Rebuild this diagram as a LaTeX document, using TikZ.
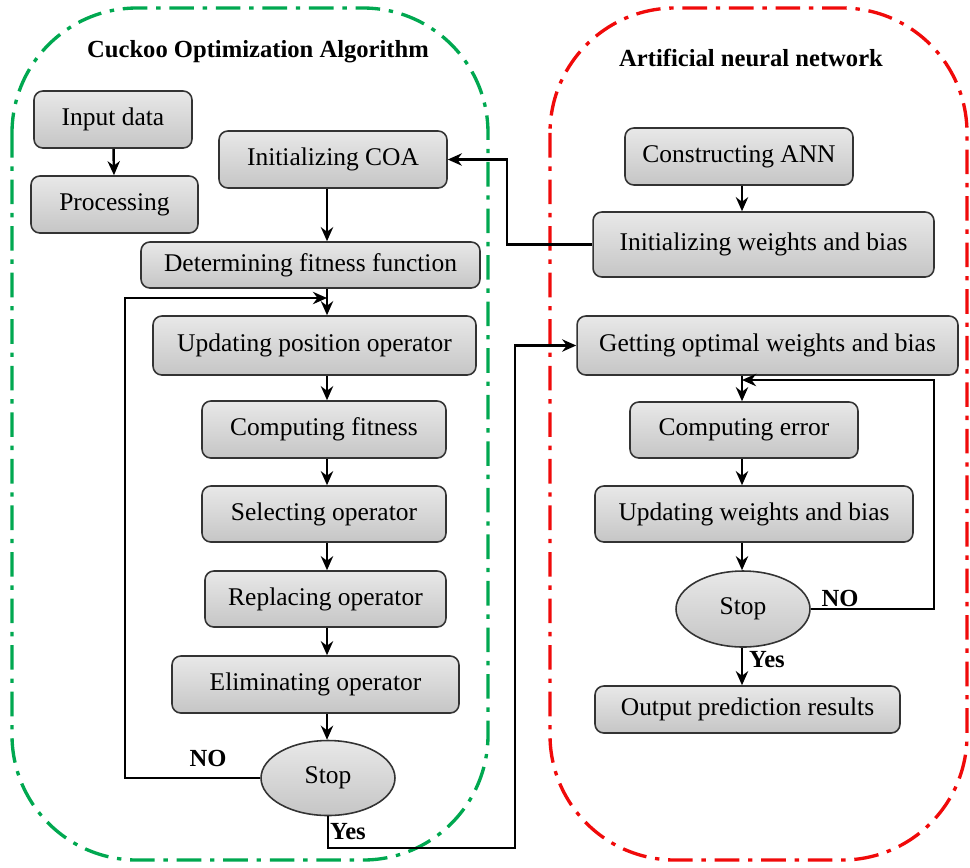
\documentclass[tikz,border=0pt]{standalone}
\usepackage{fontspec}
\setmainfont{Liberation Serif}
\usepackage{tikz}
\usetikzlibrary{shapes.geometric}
\usetikzlibrary{positioning}
\usetikzlibrary{arrows.meta}
\usepackage{xcolor}
\definecolor{coagreen}{RGB}{0,168,80}
\definecolor{annred}{RGB}{240,10,10}
\tikzset{
  stepbox/.style={draw=black!80, line width=0.9pt, rectangle, rounded corners=5pt, top color=gray!18, bottom color=gray!45, align=center, minimum height=1.14cm, font=\fontsize{14.5}{16}\selectfont},
  stopnode/.style={draw=black!80, line width=0.9pt, ellipse, top color=gray!18, bottom color=gray!45, minimum width=2.68cm, minimum height=1.5cm, font=\fontsize{14.5}{16}\selectfont},
  arr/.style={-{Stealth[length=8pt,width=7pt]}, line width=1.4pt},
  region/.style={line width=1.9pt, dash pattern=on 14pt off 5pt on 2.5pt off 5pt, rounded corners=2.5cm},
  lbl/.style={font=\bfseries\fontsize{14}{16}\selectfont}
}

\begin{document}
\begin{tikzpicture}[x=0.02cm, y=-0.02cm]
            \useasboundingbox (0,0) rectangle (970,867);
            % two dash-dot regions
            \draw[region, coagreen] (12,8) rectangle (488,860);
            \draw[region, annred] (550,8) rectangle (967,860);
            \node[lbl] (titleA) at (258,52) {Cuckoo Optimization Algorithm};
            \node[lbl] (titleB) at (751,58) {Artificial neural network};

            % Cuckoo side
            \node[stepbox, minimum width=3.16cm] (input) at (113,119.5) {Input data};
            \node[stepbox, minimum width=3.34cm] (proc) at (114.5,204.5) {Processing};
            \node[stepbox, minimum width=4.56cm] (initcoa) at (333,159.5) {Initializing COA};
            \node[stepbox, minimum width=6.78cm, minimum height=0.92cm] (fitfun) at (310.5,265) {Determining fitness function};
            \node[stepbox, minimum width=6.46cm, minimum height=1.18cm] (updpos) at (314.5,345.5) {Updating position operator};
            \node[stepbox, minimum width=4.88cm] (compfit) at (324,429.5) {Computing fitness};
            \node[stepbox, minimum width=4.88cm, minimum height=1.12cm] (select) at (324,514) {Selecting operator};
            \node[stepbox, minimum width=4.82cm, minimum height=1.12cm] (replace) at (325.5,599) {Replacing operator};
            \node[stepbox, minimum width=5.74cm] (elim) at (315.5,684.5) {Eliminating operator};
            \node[stopnode] (stopA) at (328,778) {Stop};

            % ANN side
            \node[stepbox, minimum width=4.56cm] (ann) at (739,156.5) {Constructing ANN};
            \node[stepbox, minimum width=6.82cm, minimum height=1.3cm] (initwb) at (763.5,244.5) {Initializing weights and bias};
            \node[stepbox, minimum width=7.62cm, minimum height=1.18cm] (getopt) at (767.5,345.5) {Getting optimal weights and bias};
            \node[stepbox, minimum width=4.56cm, minimum height=1.12cm] (comperr) at (744,430) {Computing error};
            \node[stepbox, minimum width=6.36cm, minimum height=1.12cm] (updwb) at (754,514) {Updating weights and bias};
            \node[stopnode, minimum height=1.52cm] (stopB) at (743,609) {Stop};
            \node[stepbox, minimum width=6.1cm, minimum height=0.94cm] (output) at (747.5,709.5) {Output prediction results};

            % column axes and bends
            \coordinate (axA) at (327,0);
            \coordinate (axB) at (742,0);
            \coordinate (loopA) at (125,298);
            \coordinate (yesA) at (515,848);
            \coordinate (loopB) at (934,380);

            % arrows
            \draw[arr] (input) -- (proc);
            \foreach \a/\b in {initcoa/fitfun, fitfun/updpos, updpos/compfit, compfit/select, select/replace, replace/elim, elim/stopA}
              \draw[arr] (\a.south -| axA) -- (\b.north -| axA);
            \foreach \a/\b in {ann/initwb, getopt/comperr, comperr/updwb, updwb/stopB, stopB/output}
              \draw[arr] (\a.south -| axB) -- (\b.north -| axB);
            \draw[arr] (initwb.west) -- ++(-85,0) |- (initcoa.east);
            \draw[arr] (stopA.west) -| (loopA) -- (loopA -| axA);
            \draw[arr] (stopA.south) |- (yesA) |- (getopt.west);
            \draw[arr] (stopB.east) -| (loopB) -- (loopB -| axB);

            % labels
            \node[lbl] (noA) at (208,758) {NO};
            \node[lbl] (yesAl) at (348,832) {Yes};
            \node[lbl] (noB) at (840,598) {NO};
            \node[lbl] (yesBl) at (767,660) {Yes};
        \end{tikzpicture}
\end{document}
